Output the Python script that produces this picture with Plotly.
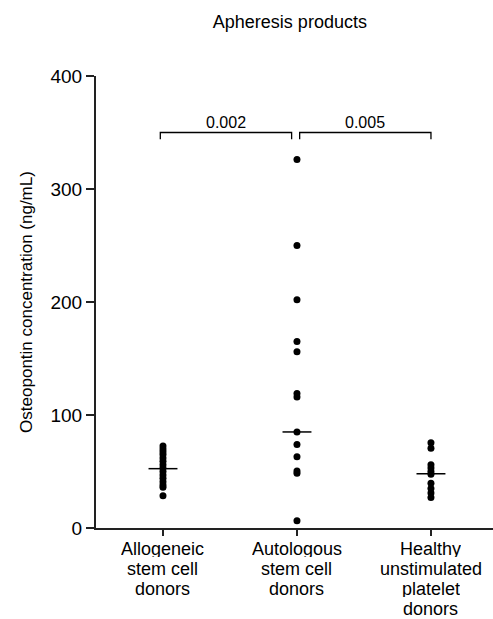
import plotly.graph_objects as go

categories = ["Allogeneic<br>stem cell<br>donors", "Autologous<br>stem cell<br>donors", "Healthy<br>unstimulated<br>platelet<br>donors"]
allogeneic = [72.5, 70, 67.5, 65, 62, 59, 56, 53, 50, 47, 44, 41, 38, 36, 28.5]
autologous = [326, 250, 202, 165, 156, 119, 116, 85, 74, 63, 50.5, 48.5, 6.5]
healthy = [75.5, 70.5, 56, 53, 50, 47.5, 39.5, 35, 31, 27]
medians = [52.5, 85, 48]
comparisons = [(0, 1, "0.002"), (1, 2, "0.005")]
bracket_y = 350
y_ticks = [0, 100, 200, 300, 400]

groups = [allogeneic, autologous, healthy]
fig = go.Figure()
for i, vals in enumerate(groups):
    fig.add_trace(go.Scatter(x=[i] * len(vals), y=vals, mode="markers",
                             marker=dict(color="black", size=7), showlegend=False))
    fig.add_trace(go.Scatter(x=[i - 0.108, i + 0.108], y=[medians[i]] * 2, mode="lines",
                             line=dict(color="black", width=1.5), showlegend=False))

for a, b, label in comparisons:
    xa = a - 0.02 if a == 0 else a + 0.02
    xb = b - 0.04 if b == 1 else b
    fig.add_trace(go.Scatter(x=[xa, xa, xb, xb], y=[bracket_y - 6, bracket_y, bracket_y, bracket_y - 6],
                             mode="lines", line=dict(color="black", width=1.3), showlegend=False))
    fig.add_annotation(x=(xa + xb) / 2, y=bracket_y, text=label, showarrow=False, yanchor="bottom",
                       yshift=0, font=dict(size=16, color="black"))

# category labels, one annotation per line for tighter line spacing
for i, cat in enumerate(categories):
    for k, line in enumerate(cat.split("<br>")):
        fig.add_annotation(x=i, xref="x", y=0, yref="paper", text=line, showarrow=False,
                           yanchor="middle", yshift=-(20.5 + 20 * k), height=16,
                           font=dict(size=18, color="black"))

fig.update_layout(
    width=493, height=619,
    margin=dict(l=96, r=0, t=76, b=91),
    plot_bgcolor="white", paper_bgcolor="white",
    font=dict(family="Liberation Sans, Arial, sans-serif", color="black"),
    title=dict(text="Apheresis products", x=0.588, xanchor="center", y=0.965, yanchor="middle",
               font=dict(size=18)),
    xaxis=dict(range=[-0.5, 2.463], tickvals=[0, 1, 2], showticklabels=False, showgrid=False,
               zeroline=False, showline=True, linecolor="#222", linewidth=2, ticks="outside",
               ticklen=6, tickcolor="#222", tickwidth=1.5, automargin=False),
    yaxis=dict(range=[0, 400], tickvals=y_ticks, showgrid=False, zeroline=False, showline=True,
               linecolor="#222", linewidth=2, ticks="outside", ticklen=8, tickcolor="#222",
               tickwidth=1.5, tickfont=dict(size=19), automargin=False,
               title=dict(text="Osteopontin concentration (ng/mL)", font=dict(size=17), standoff=14)),
)
fig.write_html("out.html")
